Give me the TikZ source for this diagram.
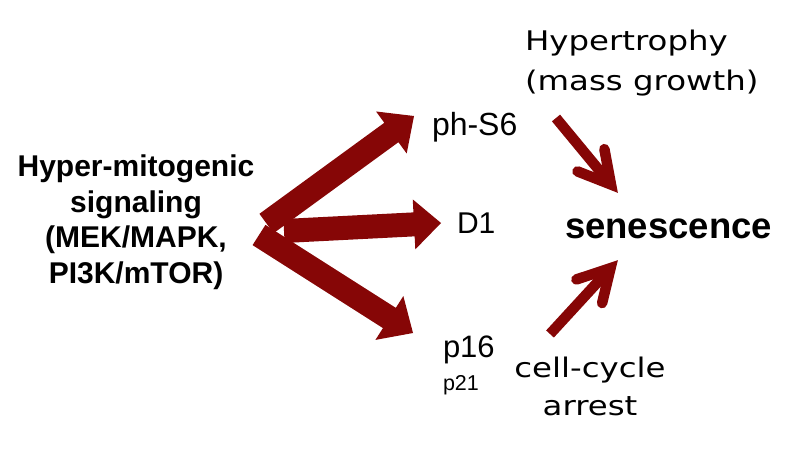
\documentclass[tikz,border=0pt]{standalone}
\usepackage{fontspec}
\setmainfont{Liberation Sans}
\newfontfamily\wideverd[FakeStretch=1.2]{DejaVu Sans}
\usetikzlibrary{calc}
\definecolor{arrred}{RGB}{134,6,6}

% block arrow: tail, tip, shaft half width, head half width, head length
\newcommand\blockarrow[5]{%
  \coordinate (ba-b) at ($(#2)!#5!(#1)$);
  \fill[arrred] ($(#1)!#3!90:(#2)$) -- ($(ba-b)!#3!-90:(#1)$) -- ($(ba-b)!#4!-90:(#1)$)
    -- (#2) -- ($(ba-b)!#4!90:(#1)$) -- ($(ba-b)!#3!90:(#1)$) -- ($(#1)!#3!-90:(#2)$) -- cycle;}
% thin barbed arrow: tail, tip
\newcommand\barbarrow[2]{%
  \coordinate (sa-v) at ($(#2)!11pt!(#1)$);
  \draw[arrred, line width=10.5pt, line cap=butt] (#1) -- ($(sa-v)!3pt!(#1)$);
  \draw[arrred, line width=10.5pt, line cap=round, line join=miter]
    ($(sa-v)!36pt!29:(#1)$) -- (sa-v) -- ($(sa-v)!36pt!-29:(#1)$);}

\begin{document}
\begin{tikzpicture}[x=1pt,y=-1pt,
  txt/.style={inner sep=0pt, outer sep=0pt}]
\useasboundingbox (0,0) rectangle (800,450);

% texts (anchor=base of a multi-line node is the baseline of its last line)
\node[txt, align=center, anchor=base, font=\bfseries\fontsize{30}{35.5}\selectfont] (sig) at (136,283)
  {Hyper-mitogenic\\signaling\\(MEK/MAPK,\\PI3K/mTOR)};
\node[txt, anchor=base west, font=\fontsize{32}{36}\selectfont] (phs6) at (432,135) {ph-S6};
\node[txt, anchor=base west, font=\fontsize{30}{36}\selectfont] (d1) at (457,233) {D1};
\node[txt, anchor=base west, font=\fontsize{31}{34}\selectfont] (p16) at (443,357) {p16};
\node[txt, anchor=base west, font=\fontsize{21.5}{24}\selectfont] (p21) at (443,390) {p21};
\node[txt, anchor=base west, font=\bfseries\fontsize{36.5}{40}\selectfont] (sen) at (565,238) {senescence};
\node[txt, anchor=base west, align=left, font=\wideverd\fontsize{27}{40}\selectfont] (hyp) at (525,90)
  {Hypertrophy\\(mass growth)};
\node[txt, anchor=base, align=center, font=\wideverd\fontsize{27}{38}\selectfont] (arr) at (590,415)
  {cell-cycle\\arrest};

% big arrows
\coordinate (t3) at (259,235);  \coordinate (h3) at (413,333);
\coordinate (t2) at (284,231);  \coordinate (h2) at (441,223);
\coordinate (t1) at (266.5,223.5); \coordinate (h1) at (414,116);
\blockarrow{t3}{h3}{12pt}{26pt}{28pt}
\blockarrow{t2}{h2}{12pt}{25pt}{27pt}
\blockarrow{t1}{h1}{12pt}{26pt}{28pt}

% small arrows
\coordinate (s1) at (556,118); \coordinate (e1) at (618,193);
\coordinate (s2) at (550,334); \coordinate (e2) at (618,260);
\barbarrow{s1}{e1}
\barbarrow{s2}{e2}
\end{tikzpicture}
\end{document}
